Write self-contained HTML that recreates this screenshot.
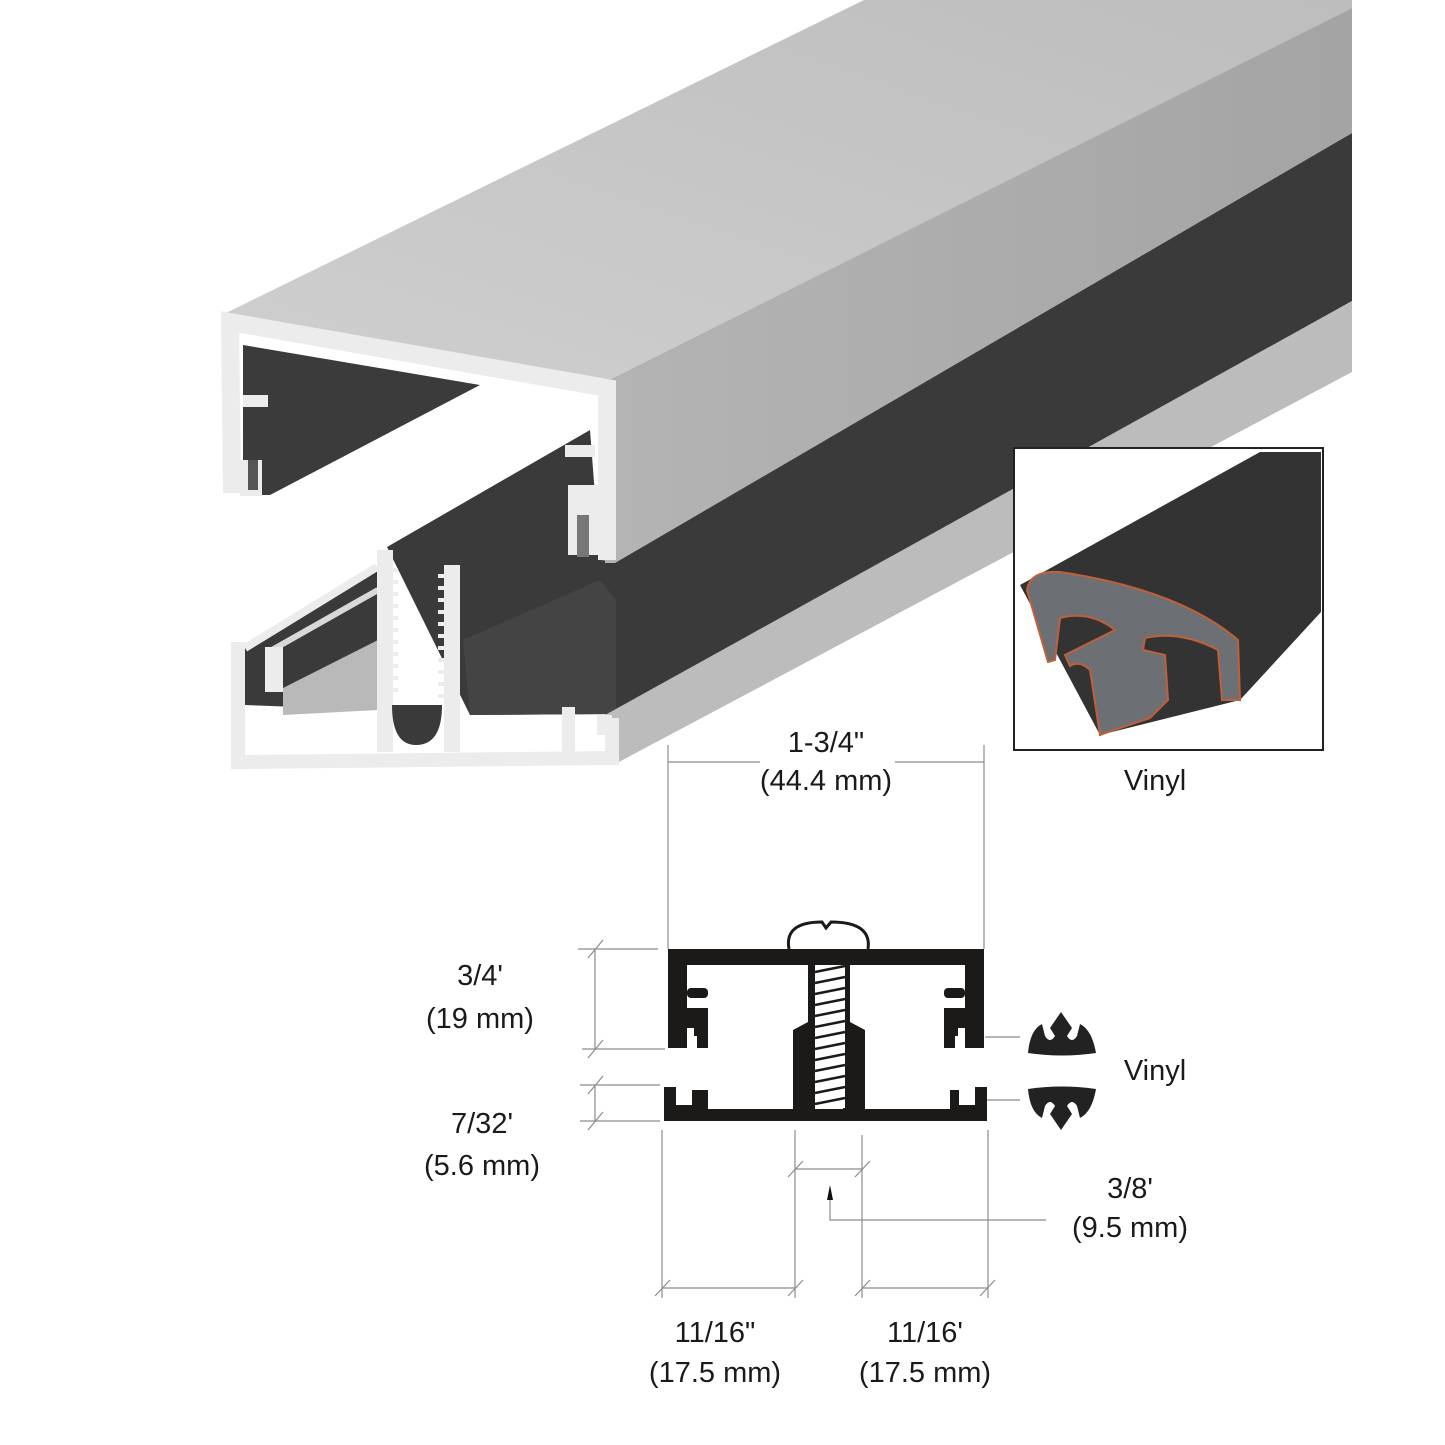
<!DOCTYPE html>
<html><head><meta charset="utf-8"><style>
html,body{margin:0;padding:0;background:#fff}
svg{display:block}
text{font-family:"Liberation Sans",Arial,sans-serif;fill:#1a1a1a;font-size:29px}
</style></head><body>
<svg width="1445" height="1445" viewBox="0 0 1445 1445" xmlns="http://www.w3.org/2000/svg">
<defs>
<linearGradient id="top" x1="0" y1="1" x2="1" y2="0">
<stop offset="0" stop-color="#cfcfcf"/><stop offset="1" stop-color="#bdbdbd"/></linearGradient>
<linearGradient id="side" x1="0" y1="0" x2="1" y2="0">
<stop offset="0" stop-color="#b4b4b4"/><stop offset="1" stop-color="#a4a4a4"/></linearGradient>
</defs>
<!-- dark interior regions -->
<polygon points="243,345 480,385 270,495 243,495" fill="#3b3b3b"/>
<polygon points="387,547 590,430 600,560 616,561 1352,133 1352,301 616,714 470,715" fill="#3a3a3a"/>
<polygon points="245,645 377,567 378,710 245,705" fill="#3a3a3a"/>
<polygon points="283,688 378,640 378,710 283,715" fill="#b9b9b9"/>
<polygon points="463,640 600,580 616,600 616,714 470,715" fill="#444"/>
<!-- top face -->
<polygon points="222,315 864,0 1352,0 1352,8 605,382" fill="url(#top)"/>
<ellipse cx="791" cy="331" rx="22" ry="10" fill="#dedede" stroke="#c6c6c6"/>
<!-- side face -->
<polygon points="605,382 1352,8 1352,133 615,563 605,563" fill="url(#side)"/>
<!-- bottom gray strip -->
<polygon points="605,715 1352,301 1352,372 617,763" fill="#bcbcbc"/>
<!-- cap front frame -->
<path d="M232,493 L230,322 L607,388 L607,560" fill="none" stroke="#ececec" stroke-width="18" stroke-linejoin="miter"/>
<rect x="243" y="395" width="25" height="12" fill="#ececec"/>
<rect x="243" y="415" width="25" height="12" fill="#3b3b3b"/>
<rect x="240" y="460" width="22" height="36" fill="#ececec"/>
<rect x="248" y="460" width="10" height="30" fill="#555"/>
<rect x="565" y="445" width="30" height="12" fill="#ececec"/>
<rect x="568" y="485" width="30" height="70" fill="#ececec"/>
<rect x="577" y="515" width="12" height="42" fill="#777"/>
<!-- bottom piece front -->
<path d="M238,642 L238,762 L612,758 L612,718" fill="none" stroke="#ececec" stroke-width="14"/>
<path d="M245,648 L377,567" stroke="#ececec" stroke-width="8"/>
<path d="M272,650 L378,590" stroke="#d8d8d8" stroke-width="6"/>
<rect x="265" y="647" width="18" height="45" fill="#ececec"/>
<path d="M385,550 L385,752 M452,565 L452,752" stroke="#ececec" stroke-width="16"/>
<path d="M392,705 Q392,745 416,745 Q442,745 442,705" fill="#3a3a3a"/>
<g stroke="#ececec" stroke-width="4">
<path d="M393,570h5M393,582h5M393,594h5M393,606h5M393,618h5M393,630h5M393,642h5M393,654h5M393,666h5M393,678h5M393,690h5"/>
<path d="M438,576h6M438,588h6M438,600h6M438,612h6M438,624h6M438,636h6M438,648h6M438,660h6M438,672h6M438,684h6M438,696h6"/>
</g>
<rect x="562" y="707" width="13" height="50" fill="#ececec"/>
<rect x="597" y="715" width="15" height="20" fill="#ececec"/>
<!-- vinyl photo box -->
<rect x="1014" y="448" width="309" height="302" fill="#fff" stroke="#222" stroke-width="2"/>
<polygon points="1020,585 1260,452 1321,452 1321,612 1240,700 1100,735" fill="#333"/>
<path d="M1027,590 Q1030,570 1060,572 Q1180,590 1238,640 L1240,700 L1222,700 L1218,650 Q1180,630 1145,638 L1143,650 L1165,655 L1168,700 L1150,718 Q1120,728 1100,735 L1090,670 Q1080,660 1070,666 L1065,655 L1115,630 Q1090,610 1060,618 L1055,660 L1048,662 Z" fill="#6c6f73" stroke="#c0603a" stroke-width="2"/>
<text x="1155" y="790" text-anchor="middle">Vinyl</text>
<!-- dimension lines -->
<g stroke="#8c8c8c" stroke-width="1.2" fill="none">
<path d="M668,745V949M984,745V949M668,762H760M895,762H984"/>
<path d="M578,949H658M582,1049H665M595,949V1049M580,1085H660M580,1121H660M595,1085V1121"/>
<path d="M985,1037H1020M985,1100H1020"/>
<path d="M662,1130V1298M795,1130V1298M862,1135V1298M988,1130V1298M662,1288H795M862,1288H988M795,1169H862"/>
<path d="M830,1200V1220H1046"/>
<path d="M588,958l15,-18M588,1058l15,-18M588,1094l15,-18M588,1130l15,-18M655,1296l15,-16M788,1296l15,-16M855,1296l15,-16M980,1296l15,-16M788,1177l15,-16M855,1177l15,-16"/>
</g>
<path d="M830,1185 L827,1200 L833,1200 Z" fill="#111"/>
<!-- cross section -->
<g fill="#1c1a18">
<rect x="668" y="949" width="316" height="16"/>
<rect x="668" y="949" width="19" height="99"/>
<rect x="687" y="988" width="21" height="10" rx="4"/>
<path d="M687,1008H708V1048H697V1036H694V1028H684V1048H668V1008Z"/>
<rect x="965" y="949" width="19" height="99"/>
<rect x="944" y="988" width="21" height="10" rx="4"/>
<path d="M965,1008H944V1048H955V1036H958V1028H968V1048H984V1008Z"/>
<rect x="664" y="1109" width="323" height="12"/>
<path d="M664,1109V1087H676V1105H692V1090H708V1109Z"/>
<path d="M987,1109V1087H975V1105H959V1090H950V1109Z"/>
<path d="M793,1030L808,1022V965H815V1110H793Z"/>
<path d="M865,1030L850,1022V965H843V1110H865Z"/>
</g>
<rect x="815" y="965" width="30" height="143" fill="#fff"/>
<g stroke="#1c1a18" stroke-width="2.5">
<path d="M815,972l30,-6M815,983l30,-6M815,994l30,-6M815,1005l30,-6M815,1016l30,-6M815,1027l30,-6M815,1038l30,-6M815,1049l30,-6M815,1060l30,-6M815,1071l30,-6M815,1082l30,-6M815,1093l30,-6M815,1104l30,-6"/>
</g>
<path d="M789,949 Q784,922 822,922 L826,928 L831,922 Q872,922 868,949" fill="#fff" stroke="#1c1a18" stroke-width="3"/>
<!-- vinyl small shapes -->
<path id="v1" d="M1028,1053 Q1030,1030 1042,1024 L1045,1036 Q1050,1044 1055,1036 L1050,1028 L1061,1012 L1072,1028 L1067,1036 Q1072,1044 1077,1036 L1080,1024 Q1092,1030 1096,1053 Q1062,1058 1028,1053 Z" fill="#222"/>
<path d="M1028,1053 Q1030,1030 1042,1024 L1045,1036 Q1050,1044 1055,1036 L1050,1028 L1061,1012 L1072,1028 L1067,1036 Q1072,1044 1077,1036 L1080,1024 Q1092,1030 1096,1053 Q1062,1058 1028,1053 Z" fill="#222" transform="translate(0,2142) scale(1,-1)"/>
<!-- labels -->
<text x="826" y="752" text-anchor="middle">1-3/4"</text>
<text x="826" y="790" text-anchor="middle">(44.4 mm)</text>
<text x="480" y="985" text-anchor="middle">3/4'</text>
<text x="480" y="1028" text-anchor="middle">(19 mm)</text>
<text x="482" y="1133" text-anchor="middle">7/32'</text>
<text x="482" y="1175" text-anchor="middle">(5.6 mm)</text>
<text x="1155" y="1080" text-anchor="middle">Vinyl</text>
<text x="1130" y="1198" text-anchor="middle">3/8'</text>
<text x="1130" y="1237" text-anchor="middle">(9.5 mm)</text>
<text x="715" y="1342" text-anchor="middle">11/16"</text>
<text x="715" y="1382" text-anchor="middle">(17.5 mm)</text>
<text x="925" y="1342" text-anchor="middle">11/16'</text>
<text x="925" y="1382" text-anchor="middle">(17.5 mm)</text>
</svg>
</body></html>
